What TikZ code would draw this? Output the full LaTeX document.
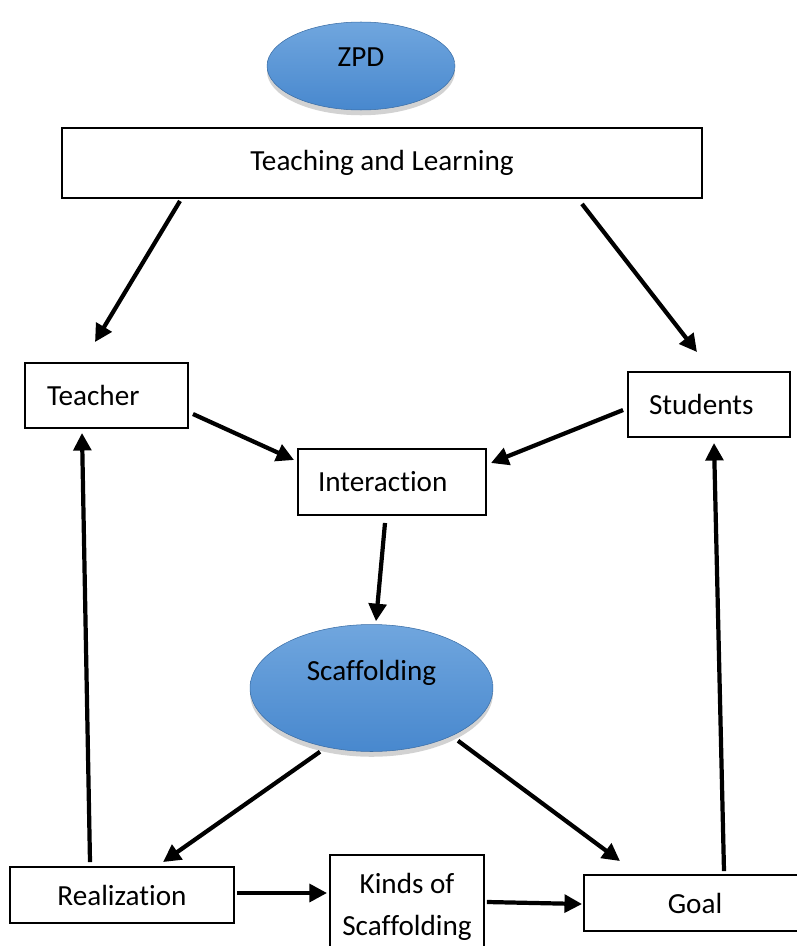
\documentclass[tikz,border=0pt]{standalone}
\usepackage{fontspec}
\setmainfont{Carlito}[Ligatures={NoCommon}]
\usetikzlibrary{arrows.meta,calc,shapes.geometric,shadows}
\definecolor{blobtop}{RGB}{112,166,222}
\definecolor{blobbot}{RGB}{72,136,206}

\begin{document}
\begin{tikzpicture}[x=0.02cm, y=-0.02cm,
    every node/.style={font=\fontsize{16.6}{20}\selectfont},
    box/.style={draw, line width=1.1pt, inner sep=0pt, align=center},
    lbox/.style={draw, line width=1.1pt, inner sep=0pt, align=left},
    blob/.style={ellipse, top color=blobtop, bottom color=blobbot, draw=blobbot!80!black, line width=0.3pt,
        drop shadow={shadow xshift=0pt, shadow yshift=-3pt, opacity=0.25, fill=black!70}},
    arr/.style={line width=2.4pt, -{Triangle[length=10pt,width=10pt]}}]
    \useasboundingbox (0,0) rectangle (796,946);
    \node[blob, minimum width=3.76cm, minimum height=1.76cm, label={[yshift=0.18cm]center:ZPD}] (zpd) at (361,66) {};
    \node[box, minimum width=12.8cm, minimum height=1.4cm] (tl) at (382,163) {Teaching and Learning};
    \node[lbox, text width=2.38cm, inner xsep=0.44cm, minimum height=1.3cm] (teacher) at (106.5,395.5) {Teacher};
    \node[lbox, text width=2.40cm, inner xsep=0.42cm, minimum height=1.3cm] (students) at (709,404.5) {Students};
    \node[lbox, text width=2.96cm, inner xsep=0.40cm, minimum height=1.32cm] (inter) at (392,482) {Interaction};
    \node[blob, minimum width=4.86cm, minimum height=2.54cm, label={[yshift=0.3cm]center:Scaffolding}] (scaf) at (371.5,688) {};
    \node[box, minimum width=4.48cm, minimum height=1.12cm] (real) at (122,895) {Realization};
    \node[box, minimum width=3.08cm, minimum height=2.06cm] (kinds) at (407,906.5) {Kinds of\\[0.14cm]Scaffolding};
    \node[box, minimum width=4.44cm, minimum height=1.12cm] (goal) at (695,903) {Goal};
\begin{scope}[arr]
    \draw ($(tl.south)+(-202,2)$) -- ($(teacher.north)+(-11.5,-20)$);
    \draw ($(tl.south)+(200,5)$) -- ($(students.north)+(-12,-19)$);
    \draw ($(teacher.east)+(4,18.5)$) -- ($(inter.west)+(-3,-22)$);
    \draw ($(students.west)+(-4,5.5)$) -- ($(inter.east)+(4,-19)$);
    \draw ($(inter.south)+(-7,7)$) -- ($(scaf.north)+(4.5,-3)$);
    \draw ($(scaf.south)+(-51.5,0)$) -- ($(real.north)+(41,-4)$);
    \draw ($(scaf.south)+(86.5,-11)$) -- ($(goal.north)+(-75,-13)$);
    \draw ($(real.north)+(-32,-4)$) -- ($(teacher.south)+(-24.5,4)$);
    \draw ($(goal.north)+(29,-3)$) -- ($(students.south)+(5,5)$);
    \draw ($(real.east)+(2,-2)$) -- ($(kinds.west)+(-2,-13.5)$);
    \draw ($(kinds.east)+(2,-4.5)$) -- ($(goal.west)+(-1,1)$);
\end{scope}
\end{tikzpicture}
\end{document}
